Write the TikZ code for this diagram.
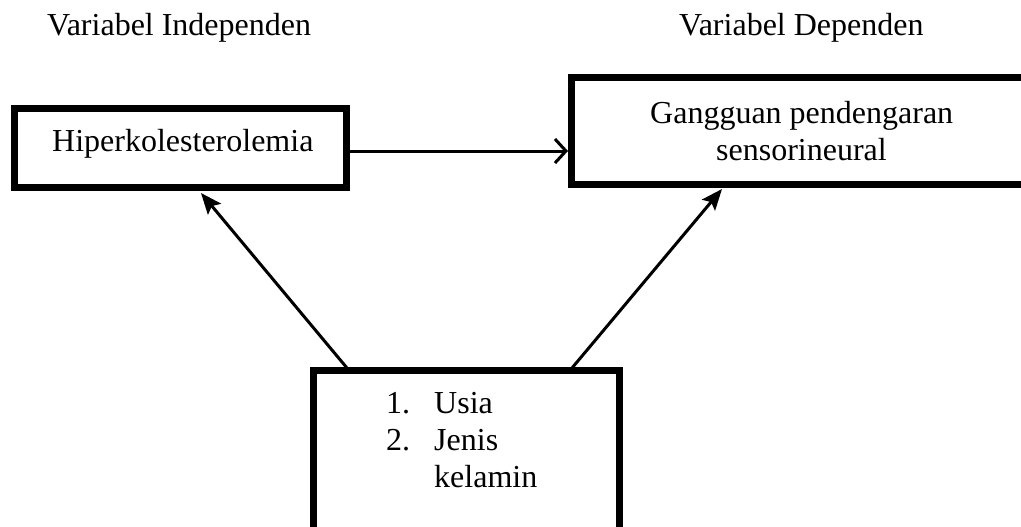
\documentclass[tikz,border=0pt]{standalone}
\usepackage{fontspec}
\setmainfont{Liberation Serif}
\usetikzlibrary{arrows.meta}
\begin{document}
\begin{tikzpicture}[x=1pt,y=-1pt,
  box/.style={draw=black,line width=7pt,rectangle,inner sep=0pt},
  lbl/.style={inner sep=0pt,anchor=base west,font=\fontsize{32}{36.8}\selectfont},
  diag/.style={line width=3pt,-{Stealth[length=21pt,width=17pt,inset=4pt]}},
  horiz/.style={line width=3pt,-{Straight Barb[length=11pt,width=24pt]}}]
\useasboundingbox (0,0) rectangle (1021,527);
\clip (0,0) rectangle (1021,527);
\fill[white] (0,0) rectangle (1021,527);
% headers
\node[lbl] (hi) at (47,36) {Variabel Independen};
\node[lbl] (hd) at (679,36) {Variabel Dependen};
% boxes
\node[box,minimum width=332pt,minimum height=79pt] (b1) at (180.5,148) {};
\node[box,minimum width=470pt,minimum height=107pt] (b2) at (806.5,131) {};
\node[box,minimum width=306pt,minimum height=190pt] (b3) at (466.5,465.5) {};
% texts
\node[lbl] (t1) at (52,151) {Hiperkolesterolemia};
\node[lbl] (t2a) at (650,124) {Gangguan pendengaran};
\node[lbl] (t2b) at (716,160) {sensorineural};
\node[lbl] (n1) at (386,413) {1.};
\node[lbl] (u1) at (434,413) {Usia};
\node[lbl] (n2) at (386,450) {2.};
\node[lbl] (u2) at (434,450) {Jenis};
\node[lbl] (u3) at (434,487) {kelamin};
% connector end points
\coordinate (a1s) at (347,368);
\coordinate (a1e) at (201,193);
\coordinate (a2s) at (572,368);
\coordinate (a2e) at (722,189);
\coordinate (h1) at (b1.east |- 0,151);
\coordinate (h2) at (b2.west |- 0,151);
\draw[horiz] (h1) -- (h2);
\draw[diag] (a1s) -- (a1e);
\draw[diag] (a2s) -- (a2e);
\end{tikzpicture}
\end{document}
